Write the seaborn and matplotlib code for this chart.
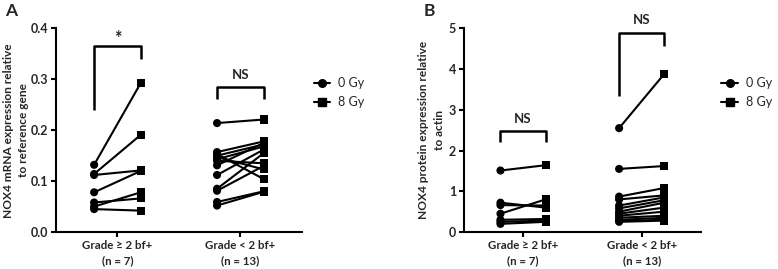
import numpy as np
import pandas as pd
import matplotlib
matplotlib.use("Agg")
import matplotlib.pyplot as plt
from matplotlib.lines import Line2D
import seaborn as sns

sns.set_theme(style="ticks")
plt.rcParams['font.family'] = ['Lato', 'DejaVu Sans']

groups = ["Grade \u2265 2 bf+\n(n = 7)", "Grade < 2 bf+\n(n = 13)"]
doses = ["0 Gy", "8 Gy"]

# Panel A: NOX4 mRNA
a_g1_0 = [0.132, 0.114, 0.112, 0.078, 0.058, 0.050, 0.045]
a_g1_8 = [0.293, 0.191, 0.121, 0.120, 0.066, 0.078, 0.042]
a_g2_0 = [0.214, 0.157, 0.153, 0.150, 0.147, 0.143, 0.140, 0.131, 0.112, 0.085, 0.081, 0.059, 0.052]
a_g2_8 = [0.221, 0.178, 0.104, 0.172, 0.123, 0.168, 0.135, 0.175, 0.162, 0.155, 0.130, 0.080, 0.079]

# Panel B: NOX4 protein
b_g1_0 = [1.51, 0.72, 0.66, 0.45, 0.30, 0.25, 0.20]
b_g1_8 = [1.64, 0.60, 0.65, 0.80, 0.32, 0.28, 0.25]
b_g2_0 = [2.55, 1.55, 0.87, 0.80, 0.65, 0.58, 0.50, 0.45, 0.40, 0.35, 0.30, 0.27, 0.25]
b_g2_8 = [3.88, 1.62, 1.08, 0.90, 0.85, 0.78, 0.72, 0.60, 0.50, 0.40, 0.35, 0.30, 0.28]

a_yticks = [0.0, 0.1, 0.2, 0.3, 0.4]
b_yticks = [0, 1, 2, 3, 4, 5]

OFFSET = 0.19


def make_df(pairs):
    rows = []
    for gi, (v0, v8) in enumerate(pairs):
        for si, (x0, x8) in enumerate(zip(v0, v8)):
            for di, val in enumerate((x0, x8)):
                rows.append(dict(group=groups[gi], dose=doses[di],
                                 subject=f"{gi}_{si}",
                                 xpos=gi + 1 + (OFFSET if di else -OFFSET),
                                 value=val))
    return pd.DataFrame(rows)


dfA = make_df([(a_g1_0, a_g1_8), (a_g2_0, a_g2_8)])
dfB = make_df([(b_g1_0, b_g1_8), (b_g2_0, b_g2_8)])

fig = plt.figure(figsize=(7.78, 2.69), dpi=100)
axA = fig.add_axes([0.072, 0.1375, 0.316, 0.757])
axB = fig.add_axes([0.596, 0.1375, 0.305, 0.757])


def draw(ax, df, ylim, yticks, fmt, ylabel, labelx):
    sns.lineplot(data=df, x="xpos", y="value", units="subject", estimator=None,
                 color="black", lw=1.5, ax=ax, legend=False)
    sns.scatterplot(data=df, x="xpos", y="value", style="dose",
                    markers={"0 Gy": "o", "8 Gy": "s"}, color="black",
                    s=34, edgecolor="black", linewidth=0, ax=ax, legend=False,
                    zorder=3)
    ax.set_xlim(0.5, 2.5)
    ax.set_ylim(*ylim)
    ax.set_xticks([1, 2])
    ax.set_xticklabels(groups, fontsize=8.3, fontweight="bold", linespacing=1.55)
    ax.set_yticks(yticks)
    ax.set_yticklabels([fmt.format(t) for t in yticks], fontsize=9, fontweight="bold")
    ax.set_xlabel("")
    ax.set_ylabel(ylabel, fontsize=8.6, fontweight="bold", linespacing=1.55)
    ax.yaxis.set_label_coords(labelx, 0.5)
    for s in ("top", "right"):
        ax.spines[s].set_visible(False)
    for s in ("left", "bottom"):
        ax.spines[s].set_linewidth(1.5)
        ax.spines[s].set_color("black")
    ax.tick_params(axis="both", length=3.5, width=1.5, color="black", pad=2)


def bracket(ax, x0, x1, ytop, yl, yr, text, ytext, size):
    ax.plot([x0, x0, x1, x1], [yl, ytop, ytop, yr], color="black", lw=1.8,
            clip_on=False, solid_capstyle="butt")
    ax.text((x0 + x1) / 2, ytext, text, ha="center", va="center",
            fontsize=size, fontweight="bold", clip_on=False)


draw(axA, dfA, (0, 0.4), a_yticks, "{:.1f}",
     "NOX4 mRNA expression relative\nto reference gene", -0.108)
draw(axB, dfB, (0, 5), b_yticks, "{:d}",
     "NOX4 protein expression relative\nto actin", -0.08)

bracket(axA, 1 - OFFSET, 1 + OFFSET, 0.365, 0.24, 0.34, "*", 0.381, 13)
bracket(axA, 2 - OFFSET, 2 + OFFSET, 0.285, 0.262, 0.262, "NS", 0.308, 9.5)
bracket(axB, 1 - OFFSET, 1 + OFFSET, 2.48, 2.21, 2.21, "NS", 2.78, 9.5)
bracket(axB, 2 - OFFSET, 2 + OFFSET, 4.88, 3.34, 4.57, "NS", 5.2, 9.5)

handles = [Line2D([], [], color="black", marker="o", lw=1.5, markersize=5.5),
           Line2D([], [], color="black", marker="s", lw=1.5, markersize=5.5)]
for x in (0.403, 0.927):
    fig.legend(handles, doses, loc="center left", bbox_to_anchor=(x, 0.655),
               frameon=False, fontsize=9, handlelength=1.35, handletextpad=0.6,
               labelspacing=0.55, borderaxespad=0, borderpad=0)

fig.text(0.006, 0.99, "A", fontsize=12.5, fontweight="bold", va="top", ha="left")
fig.text(0.545, 0.99, "B", fontsize=12.5, fontweight="bold", va="top", ha="left")

fig.savefig("out.png", dpi=100)
